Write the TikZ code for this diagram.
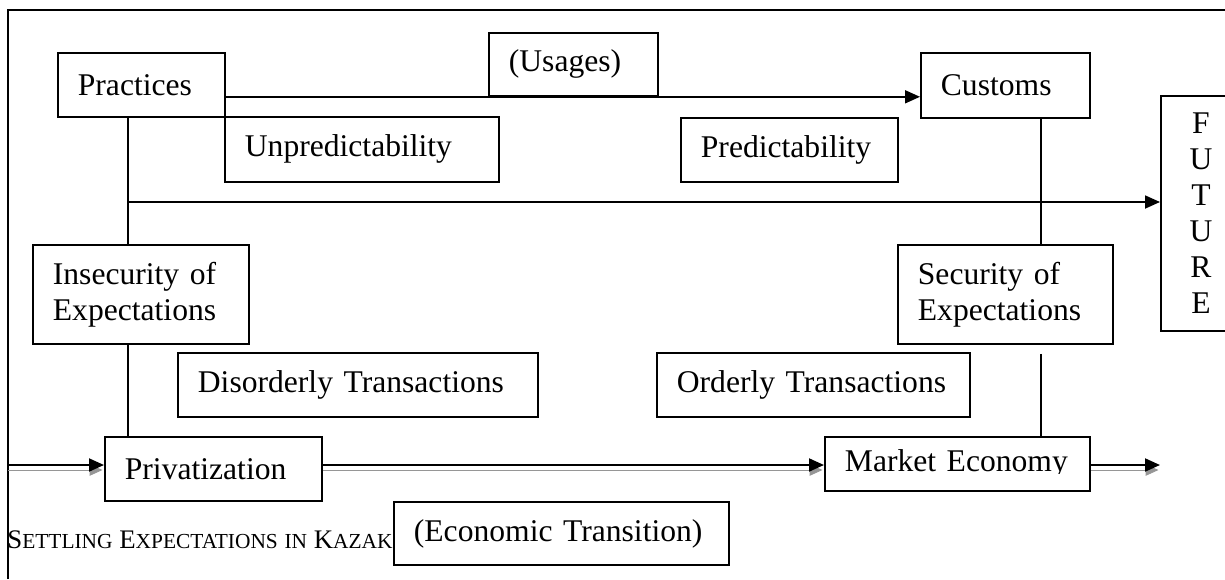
\documentclass[tikz,border=0pt]{standalone}
\usepackage{fontspec}
\setmainfont{Liberation Serif}
\usetikzlibrary{arrows.meta, positioning}
\definecolor{shadowgray}{RGB}{150, 150, 150}
\newcommand{\fsc}[1]{{\fontsize{10.7}{12}\selectfont #1}}
\tikzset{
    txtbox/.style={draw, line width=0.9pt, fill=white, anchor=north west, inner xsep=10pt, inner ysep=0pt, align=left, font=\fontsize{15.8}{18}\selectfont},
    link/.style={line width=0.9pt},
    arr/.style={link, -{Triangle[length=7.5pt, width=6.5pt]}},
    dblarr/.style={line width=1pt, -{Triangle[length=7.5pt, width=6.5pt]}, preaction={draw=shadowgray, transform canvas={yshift=-2.5pt}}}
}

\begin{document}
\begin{tikzpicture}[x=0.5pt, y=-0.5pt]
    \useasboundingbox (0,0) rectangle (1225,579);
    % frame
    \draw[link] (8,579) -- (8,10) -- (1225,10);

    % upper row
    \node[txtbox, text width=63.5pt, minimum height=32pt] (practices) at (57,52) {Practices};
    \node[txtbox, text width=64.5pt, minimum height=31.5pt] (usages) at (488,32) {(Usages)};
    \node[txtbox, text width=64.5pt, minimum height=32.5pt] (customs) at (920,52) {Customs};
    \node[txtbox, text width=117pt, minimum height=32.5pt] (unpred) at (224,116) {Unpredictability};
    \node[txtbox, text width=88.5pt, minimum height=32pt] (pred) at (680,117) {Predictability};
    \node[txtbox, text width=20pt, inner xsep=10pt, align=center, minimum height=117.5pt] (future) at (1160,95) {F\\U\\T\\U\\R\\E};

    % middle row
    \node[txtbox, text width=88pt, minimum height=49.5pt] (insec) at (32,244) {Insecurity of\\Expectations};
    \node[txtbox, text width=87.5pt, minimum height=49.5pt] (secur) at (897,244) {Security of\\Expectations};
    \node[txtbox, text width=160pt, minimum height=32pt] (disord) at (177,352) {Disorderly Transactions};
    \node[txtbox, text width=136.5pt, minimum height=32pt] (ord) at (656,352) {Orderly Transactions};

    % lower row
    \node[txtbox, text width=88.5pt, minimum height=32pt] (priv) at (104,436) {Privatization};
    \node[txtbox, text width=112.5pt, minimum height=27pt] (market) at (824,436) {Market Economy};
    \fill[white] ([shift={(-1.3pt,-1.2pt)}]market.base east) rectangle ([shift={(1.3pt,1.3pt)}]market.south west);
    \node[anchor=base west, inner sep=0pt, font=\fontsize{13.4}{15}\selectfont] (runhead) at (7,548) {S\fsc{ETTLING} E\fsc{XPECTATIONS} \fsc{IN} K\fsc{AZAK}};
    \node[txtbox, text width=147.5pt, minimum height=31.5pt] (econ) at (393,501) {(Economic Transition)};

    % connectors
    \coordinate (lspine) at (128,202);
    \coordinate (rspine) at (1041,202);
    \coordinate (entry) at (8,465);
    \coordinate (exit) at (1160,465);
    \draw[arr] (practices.east |- usages.south) -- (customs.west |- usages.south);
    \draw[link] (practices.south -| lspine) -- (insec.north -| lspine);
    \draw[link] (insec.south -| lspine) -- (priv.north -| lspine);
    \draw[arr] (lspine) -- (lspine -| future.west);
    \draw[link] (customs.south -| rspine) -- (secur.north -| rspine);
    \draw[link, shorten <=4.5pt] (secur.south -| rspine) -- (market.north -| rspine);
    \draw[dblarr] (entry) -- (entry -| priv.west);
    \draw[dblarr] (priv.east |- entry) -- (market.west |- entry);
    \draw[dblarr] (market.east |- entry) -- (exit);
\end{tikzpicture}
\end{document}
